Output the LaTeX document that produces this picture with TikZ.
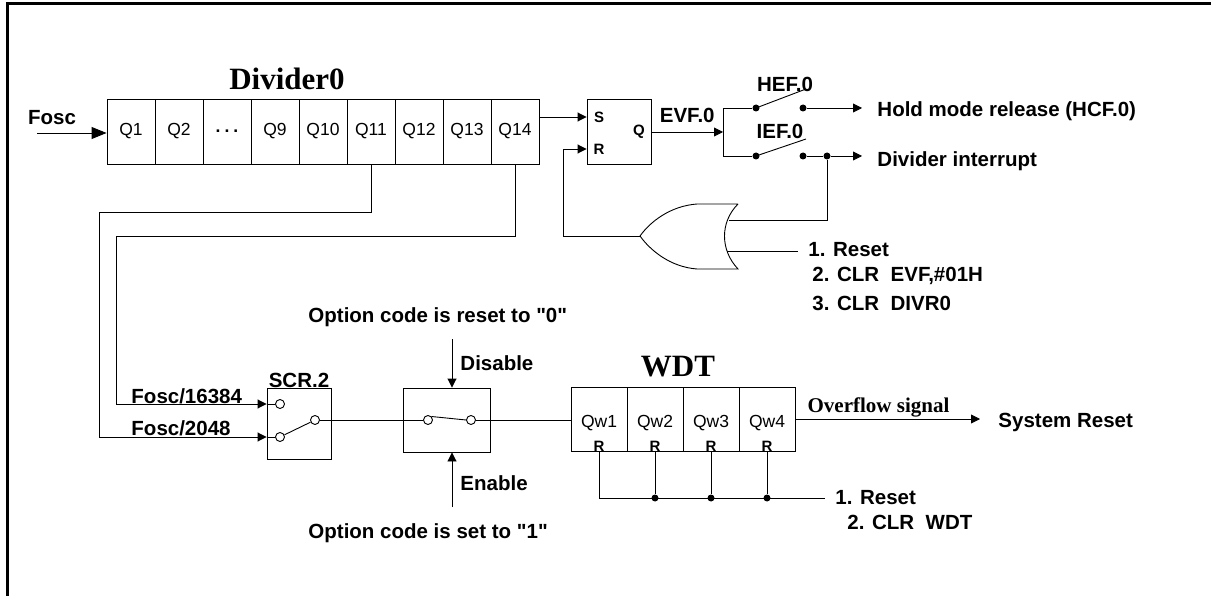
\documentclass[tikz,border=0pt]{standalone}
\usepackage{fontspec}
\setmainfont{Liberation Sans}
\newfontfamily\tms{Liberation Serif}
\newfontfamily\arl{Liberation Sans}
\newcommand{\qt}{{\arl\symbol{34}}}
\usetikzlibrary{arrows.meta}
\begin{document}
\begin{tikzpicture}
  [x=1pt, y=-1pt, line width=0.9pt,
   >={Triangle[length=9pt,width=9pt]},
   lbl/.style={font=\fontsize{20.5}{24}\selectfont\bfseries, inner sep=0pt},
   ttl/.style={font=\fontsize{31}{34}\selectfont\tms\bfseries, inner sep=0pt},
   cell/.style={draw, minimum width=48pt, minimum height=65pt, inner sep=0pt, font=\fontsize{17.5}{18}\selectfont},
   wcell/.style={draw, minimum width=56pt, minimum height=64pt, inner sep=0pt},
   pin/.style={font=\fontsize{15}{15}\selectfont\bfseries, inner sep=0pt},
   dot/.style={circle, fill, inner sep=0pt, minimum size=7pt},
   ring/.style={circle, draw, fill=white, inner sep=0pt, minimum size=9pt}]
  \useasboundingbox (0,0) rectangle (1211,596);
  \draw[line width=3pt] (7,596) -- (7,4) -- (1211,4);
  \node[ttl](div) at (287,79) {Divider0};
  \foreach \t [count=\i] in {Q1,Q2,{\textbf{.\hspace{4pt}.\hspace{4pt}.}},Q9,Q10,Q11,Q12,Q13,Q14}
    \node[cell](c\i) at (83+48*\i,131.5) {\t};
  \coordinate(in) at (37,133);
  \node[lbl](fosc) at (52,118) {Fosc};
  \draw[-{Triangle[length=15pt,width=12pt]}](in) -- (c1.west |- in);
  \node[draw, minimum width=64pt, minimum height=65pt](ff) at (619,131.5) {};
  \node[pin](fs) at (599,117) {S};
  \node[pin](fr) at (599,149) {R};
  \node[pin](fq) at (639,132) {Q};
  \draw[->](c9.east |- fs) -- (ff.west |- fs);
  \coordinate(sp) at (723,132);
  \draw[->](ff.east |- fq) --node[lbl, above=9pt]{EVF.0} (sp);
  \node[dot](h1) at (756,108) {};
  \node[dot](h2) at (803,108) {};
  \node[dot](i1) at (756,156) {};
  \node[dot](i2) at (803,156) {};
  \node[dot](j) at (827,156) {};
  \coordinate(bar) at (723,108);
  \coordinate(hl) at (806,89);
  \coordinate(il) at (806,139);
  \draw(h1) -- (bar) |- (i1);
  \draw(h1.center) -- (hl);
  \draw(i1.center) -- (il);
  \node[lbl](hef) at (785,84) {HEF.0};
  \node[lbl](ief) at (780,131) {IEF.0};
  \node[lbl, anchor=west, inner xsep=15pt](hold) at (862,111) {Hold mode release (HCF.0)};
  \node[lbl, anchor=west, inner xsep=15pt](dint) at (862,161) {Divider interrupt};
  \draw[->](h2) -- (h2 -| hold.west);
  \draw[->](i2) -- (j) -- (j -| dint.west);
  \coordinate(ot) at (640,236);
  \coordinate(oi1) at (729,220);
  \coordinate(oi2) at (727,251);
  \coordinate(rb) at (563,236);
  \draw(738,204) -- (697,204) .. controls (670,206) and (650,222) .. (ot)
    .. controls (650,250) and (670,267) .. (697,269) -- (738,269)
    .. controls (720,250) and (720,222) .. (738,204);
  \draw(j) |- (oi1);
  \draw[->](ot) -- (rb) |- (ff.west |- fr);
  \node[lbl, anchor=west, inner xsep=10pt](r1) at (798,250) {1. Reset};
  \node[lbl, anchor=west](r2) at (812,276) {2. CLR\ \ EVF,\#01H};
  \node[lbl, anchor=west](r3) at (812,303) {3. CLR\ \ DIVR0};
  \draw(oi2) -- (oi2 -| r1.west);
  \coordinate(k1) at (99,212);
  \coordinate(k2) at (116,236);
  \node[draw, minimum width=64pt, minimum height=71pt](scr) at (299,423.5) {};
  \node[lbl](scrl) at (299,380) {SCR.2};
  \node[ring](s1) at (280,404) {};
  \node[ring](s2) at (280,437) {};
  \node[ring](s3) at (315,420) {};
  \draw(s2) -- (s3);
  \draw[->](c9.south) |- (k2) |- (scr.west |- s1);
  \draw(scr.west |- s1) -- (s1);
  \draw[->](c6.south) |- (k1) |- (scr.west |- s2);
  \draw(scr.west |- s2) -- (s2);
  \node[lbl, anchor=base west](f1) at (131,403) {Fosc/16384};
  \node[lbl, anchor=base west](f2) at (131,435) {Fosc/2048};
  \node[draw, minimum width=87pt, minimum height=64pt](en) at (446.5,420) {};
  \node[ring](e1) at (428,420) {};
  \node[ring](e2) at (471,420) {};
  \draw(e1.north east) -- (e2.west);
  \draw(s3) -- (e1);
  \coordinate(dis) at (452,339);
  \coordinate(ena) at (452,507);
  \draw[->](dis) -- (dis |- en.north);
  \draw[->](ena) -- (ena |- en.south);
  \node[lbl, anchor=west](dl) at (460,363) {Disable};
  \node[lbl, anchor=west](el) at (460,483) {Enable};
  \node[lbl, anchor=west](o0) at (308,317) {Option code is reset to \qt0\qt};
  \node[lbl, anchor=west](o1) at (308,533) {Option code is set to \qt1\qt};
  \node[ttl](wdt) at (678,367) {WDT};
  \foreach \i in {1,...,4} {
    \node[wcell](w\i) at (543+56*\i,419) {};
    \node[font=\fontsize{17.5}{18}\selectfont, inner sep=0pt](wq\i) at (543+56*\i,423) {Qw\i};
    \node[pin, anchor=base](p\i) at (543+56*\i,451) {R};
  }
  \draw(e2) -- (e2 -| w1.west);
  \node[lbl, anchor=west, inner xsep=10pt](wr1) at (825,498) {1. Reset};
  \node[lbl, anchor=west](wr2) at (847,522) {2. CLR\ \ WDT};
  \draw(p1) |- (wr1.west);
  \foreach \i in {2,3,4} {
    \node[dot](d\i) at (p\i |- wr1.west) {};
    \draw(p\i) -- (d\i);
  }
  \node[lbl, anchor=west, inner xsep=18pt](sys) at (980,422) {System Reset};
  \draw[->](w4.east) --node[pos=0.45, above, inner sep=1pt, font=\fontsize{21}{24}\selectfont\tms\bfseries](ovf){Overflow signal} (w4.east -| sys.west);
\end{tikzpicture}
\end{document}
